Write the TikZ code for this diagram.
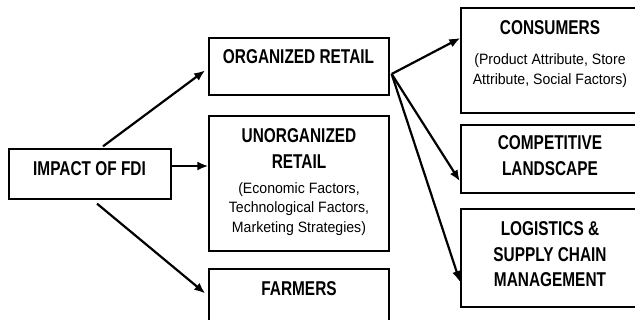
\documentclass[tikz,border=0pt]{standalone}
\usepackage{fontspec}
\setmainfont{Liberation Sans}
\newfontfamily\headfont{Liberation Sans}[FakeStretch=0.77]
\newfontfamily\bodyfont{Liberation Sans}[FakeStretch=0.94]
\usetikzlibrary{arrows.meta}
\begin{document}
\begin{tikzpicture}[x=1pt, y=-1pt,
  box/.style={draw, line width=1.3pt, inner sep=0pt, fill=white},
  lbox/.style={box, minimum width=180pt},
  rbox/.style={box, minimum width=180pt},
  head/.style={font=\headfont\bfseries\fontsize{20}{26}\selectfont, anchor=base, inner sep=0pt},
  body/.style={font=\bodyfont\fontsize{15}{20}\selectfont, anchor=base, inner sep=0pt},
  arr/.style={line width=2.2pt, -{Latex[length=11pt,width=9pt]}}]
\useasboundingbox (0,0) rectangle (635,320);
\clip (0,0) rectangle (635,320);

% boxes
\node[box, minimum width=162pt, minimum height=50pt] (fdi) at (90,174) {};
\node[lbox, minimum height=57pt]  (or) at (299,66.5) {};
\node[lbox, minimum height=135pt] (un) at (299,183.5) {};
\node[lbox, minimum height=60pt]  (fa) at (299,299) {};
\node[rbox, minimum height=105pt] (co) at (551,60.5) {};
\node[rbox, minimum height=68pt]  (cp) at (551,159) {};
\node[rbox, minimum height=98pt]  (lo) at (551,258) {};

% box texts
\node[head] (fdi-t) at (89.5,176) {IMPACT OF FDI};
\node[head] (or-t) at (298.5,64) {ORGANIZED RETAIL};
\node[head] (un-t1) at (299,142.7) {UNORGANIZED};
\node[head] (un-t2) at (299,168.7) {RETAIL};
\node[body] (un-s1) at (299,193.3) {(Economic Factors,};
\node[body] (un-s2) at (299,213) {Technological Factors,};
\node[body] (un-s3) at (299,232.7) {Marketing Strategies)};
\node[head] (fa-t) at (299,296) {FARMERS};
\node[head] (co-t) at (550,35) {CONSUMERS};
\node[body] (co-s1) at (550,64.5) {(Product Attribute, Store};
\node[body] (co-s2) at (550,84.7) {Attribute, Social Factors)};
\node[head] (cp-t1) at (550,150) {COMPETITIVE};
\node[head] (cp-t2) at (550,176) {LANDSCAPE};
\node[head] (lo-t1) at (550,236) {LOGISTICS \&};
\node[head] (lo-t2) at (550,262) {SUPPLY CHAIN};
\node[head] (lo-t3) at (550,287) {MANAGEMENT};

% connectors from the FDI box
\draw[arr, shorten >=4pt] ([xshift=13pt,yshift=2pt]fdi.north) -- ([yshift=-1.5pt]or.west);
\draw[arr] ([yshift=8pt]fdi.east) -- ([yshift=8pt]fdi.east -| un.west);
\draw[arr, shorten >=4pt] ([xshift=7pt,yshift=-4pt]fdi.south) -- ([yshift=3pt]fa.west);

% connectors from the organized retail box
\coordinate (hub) at ([xshift=2pt,yshift=-7.5pt]or.east);
\draw[arr] (hub) -- ([yshift=22.5pt]co.west);
\draw[arr, shorten >=1pt] (hub) -- ([yshift=-23pt]cp.west);
\draw[arr, shorten >=1pt] (hub) -- ([yshift=-25pt]lo.west);
\end{tikzpicture}
\end{document}
